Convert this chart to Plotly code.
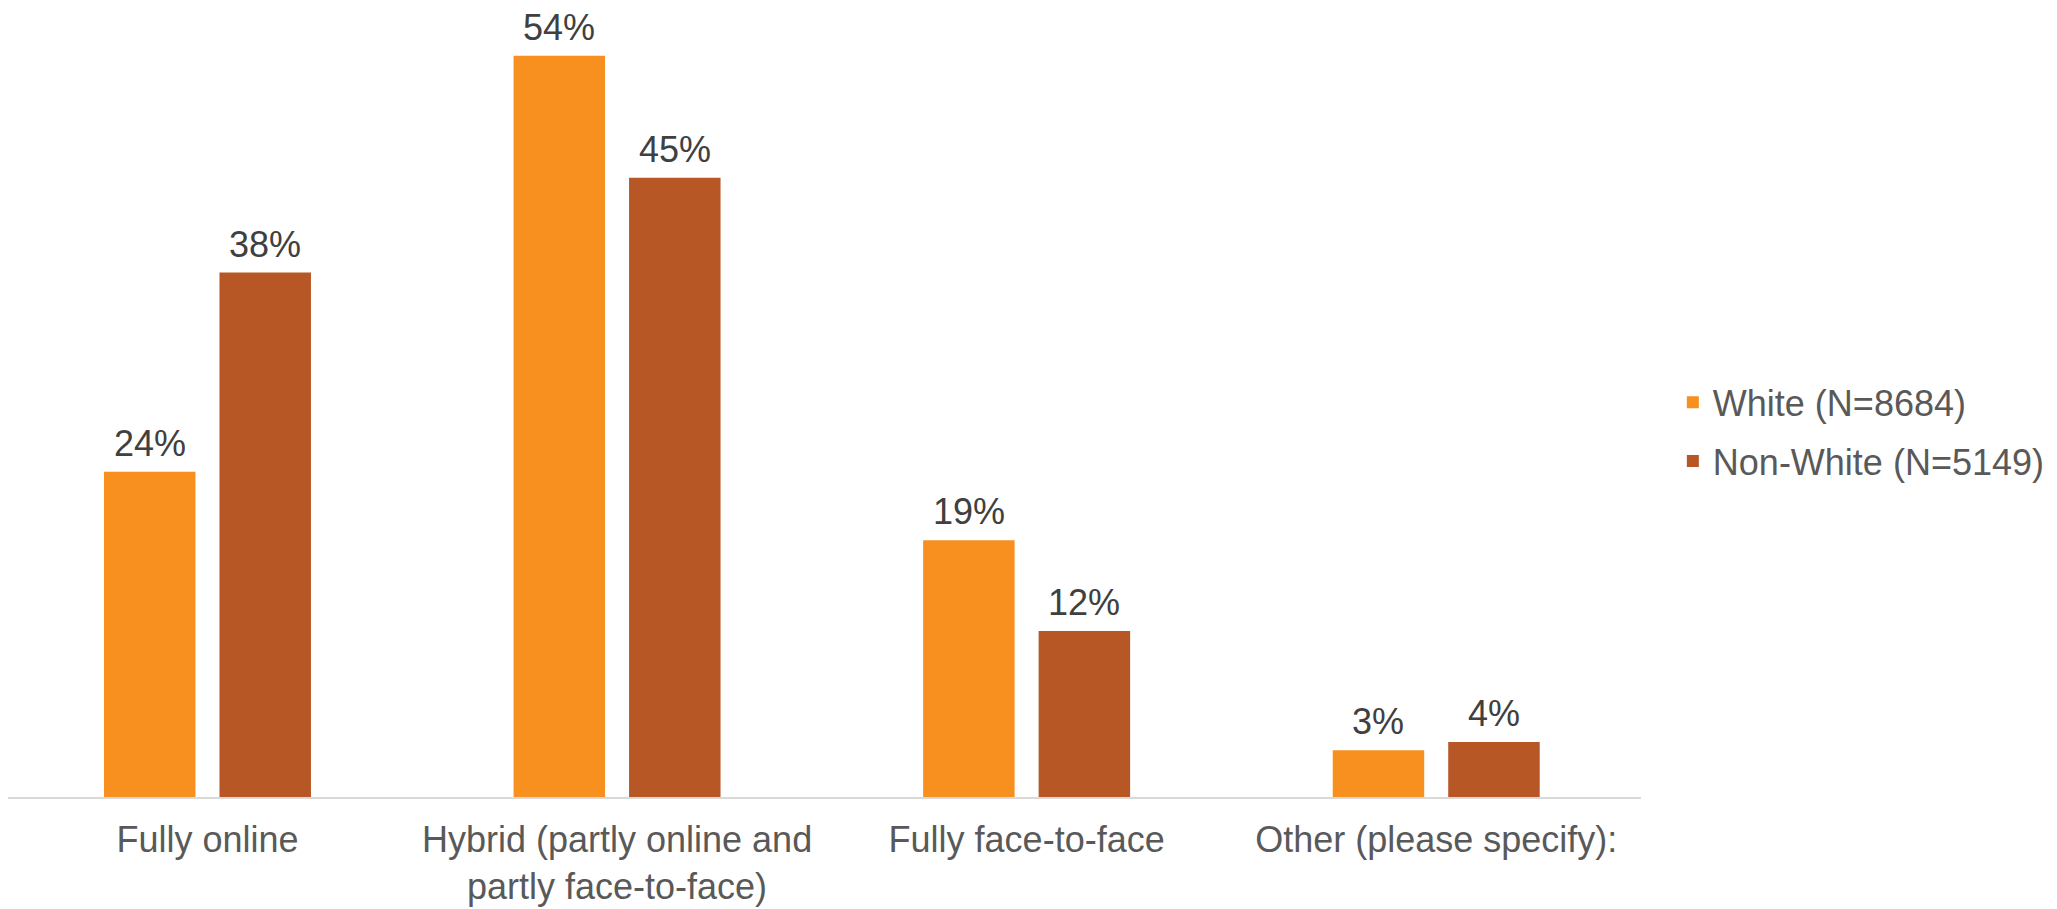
import plotly.graph_objects as go

categories = ["Fully online", "Hybrid (partly online and<br>partly face-to-face)",
              "Fully face-to-face", "Other (please specify):"]
white_vals = [23.7, 54.0, 18.7, 3.4]
nonwhite_vals = [38.2, 45.1, 12.1, 4.0]
series_names = ["White (N=8684)", "Non-White (N=5149)"]
series_colors = ["#F7901F", "#B65725"]

FONT = "Liberation Sans, Arial, sans-serif"
BARGAP = 0.436
BARGROUPGAP = 0.208

fig = go.Figure()
series = [white_vals, nonwhite_vals]
for name, vals, col in zip(series_names, series, series_colors):
    fig.add_trace(go.Bar(
        x=categories, y=vals, name=name, marker_color=col,
        marker_line_width=0, cliponaxis=False, legendgroup=name,
    ))

# value labels above bars (positioned via axis coordinates)
slot = (1 - BARGAP) / len(series)
for si, vals in enumerate(series):
    off = -(1 - BARGAP) / 2 + slot * (si + 0.5)
    for ci, v in enumerate(vals):
        fig.add_annotation(
            x=ci + off, y=v, xref="x", yref="y",
            text=f"{round(v)}%", showarrow=False,
            xanchor="center", yanchor="bottom", yshift=6,
            font=dict(size=36, color="#404040", family=FONT),
        )

fig.update_layout(
    width=2057, height=909,
    margin=dict(l=0, r=424, t=12, b=120),
    plot_bgcolor="white", paper_bgcolor="white",
    barmode="group", bargap=BARGAP, bargroupgap=BARGROUPGAP,
    font=dict(family=FONT, size=36, color="#595959"),
    legend=dict(x=1.0195, y=0.47, xanchor="left", yanchor="middle",
                font=dict(size=36, color="#595959"), tracegroupgap=9,
                bgcolor="rgba(0,0,0,0)"),
    xaxis=dict(showline=True, linecolor="#D9D9D9", linewidth=2, ticks="",
               tickfont=dict(size=36, color="#595959"), showgrid=False,
               range=[-0.487, 3.5], ticklabelstandoff=10),
    yaxis=dict(range=[0, 56.6], visible=False, showgrid=False),
)

fig.write_html("out.html")
